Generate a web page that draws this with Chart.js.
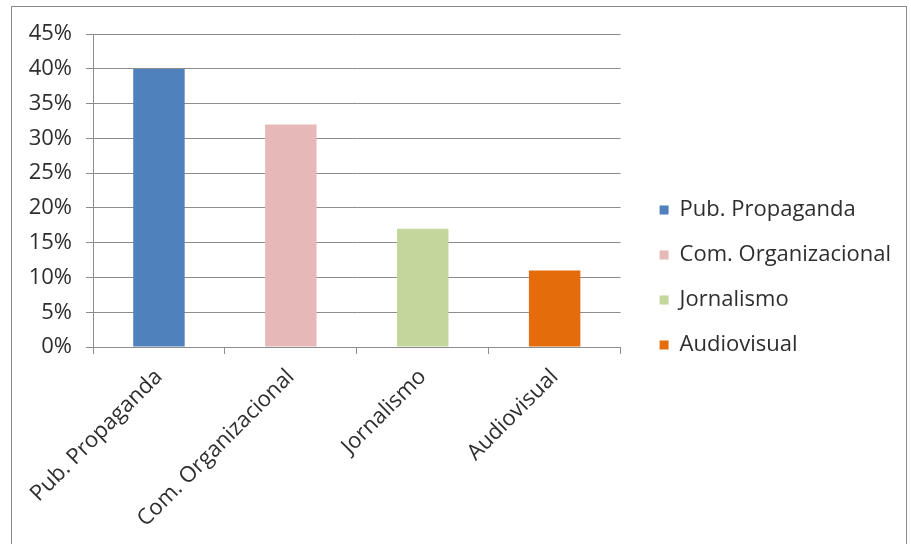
<!DOCTYPE html>
<html>
<head>
<meta charset="utf-8">
<script src="https://cdn.jsdelivr.net/npm/chart.js@4"></script>
<style>
  body { margin: 0; background: #fff; }
  #frame { position: absolute; left: 11px; top: 6px; width: 894px; height: 600px; border: 1px solid #8a8a8a; }
  #box { position: relative; width: 894px; height: 537px; }
</style>
</head>
<body>
<div id="frame"><div id="box"><canvas id="myChart"></canvas></div></div>
<script>
const categories = ['Pub. Propaganda', 'Com. Organizacional', 'Jornalismo', 'Audiovisual'];
const values = [40, 32, 17, 11];
const barColors = ['#4F81BD', '#E6B9B8', '#C3D69B', '#E46C0A'];
const yTicks = { min: 0, max: 45, step: 5 };

const textColor = '#2e2e2e';
const gridColor = '#8c8c8c';

Chart.defaults.font.family = "'Open Sans', 'Liberation Sans', sans-serif";
Chart.defaults.font.size = 22;
Chart.defaults.color = textColor;

// empty spacer axes, only there to push the plot area away from the legend/top
const spacer = (w, h) => ({
  display: true,
  grid: { display: false },
  border: { display: false },
  ticks: { display: false },
  afterFit: (scale) => {
    if (w) scale.width = w;
    if (h) scale.height = h;
  }
});

const ctx = document.getElementById('myChart');

new Chart(ctx, {
  type: 'bar',
  data: {
    labels: categories,
    datasets: [{
      label: 'valores',
      data: values,
      backgroundColor: barColors,
      borderWidth: 0,
      barPercentage: 0.39,
      categoryPercentage: 1
    }]
  },
  options: {
    responsive: true,
    maintainAspectRatio: false,
    animation: false,
    layout: { padding: { top: 4, left: 0, right: 5, bottom: 0 } },
    plugins: {
      tooltip: { enabled: false },
      legend: {
        position: 'right',
        align: 'center',
        maxWidth: 400,
        labels: {
          boxWidth: 9,
          boxHeight: 9,
          padding: 23,
          color: textColor,
          generateLabels: (chart) => categories.map((c, i) => ({
            text: c,
            fillStyle: barColors[i],
            strokeStyle: barColors[i],
            lineWidth: 0,
            hidden: false,
            index: i,
            fontColor: textColor
          }))
        }
      }
    },
    scales: {
      x: {
        grid: { drawOnChartArea: false, color: gridColor, tickLength: 7, offset: true },
        border: { color: gridColor },
        ticks: { minRotation: 45, maxRotation: 45, padding: 10, color: textColor },
        afterFit: (scale) => { scale.height = 197; }
      },
      y: {
        min: yTicks.min,
        max: yTicks.max,
        grid: { color: gridColor, tickLength: 7 },
        border: { color: gridColor },
        ticks: {
          stepSize: yTicks.step,
          padding: 14,
          color: textColor,
          callback: (v) => v + '%'
        },
        afterFit: (scale) => { scale.width = 81; }
      },
      gapRight: Object.assign({ position: 'right' }, spacer(16, 0)),
      gapTop: Object.assign({ type: 'category', position: 'top' }, spacer(0, 23))
    }
  }
});
</script>
</body>
</html>
